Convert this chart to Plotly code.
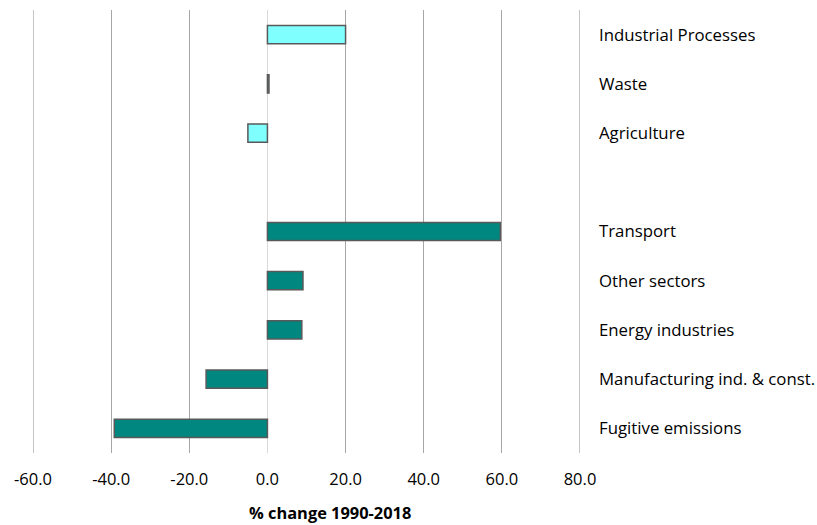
import plotly.graph_objects as go

# Data (bottom to top)
energy_categories = ["Fugitive emissions", "Manufacturing ind. & const.", "Energy industries",
                     "Other sectors", "Transport"]
energy_values = [-39.2, -15.7, 8.8, 9.1, 59.6]

nonenergy_categories = ["Agriculture", "Waste", "Industrial Processes"]
nonenergy_values = [-5.0, 0.4, 20.0]

gap_category = " "
category_order = energy_categories + [gap_category] + nonenergy_categories

x_ticks = [-60, -40, -20, 0, 20, 40, 60, 80]
x_title = "% change 1990-2018"

FONT = "Open Sans"
GRID = "#A6A6A6"
EDGE = "#595959"

fig = go.Figure()
fig.add_trace(go.Bar(
    y=energy_categories, x=energy_values, orientation="h", width=0.37,
    marker=dict(color="#00877F", line=dict(color=EDGE, width=1.5)),
    showlegend=False,
))
fig.add_trace(go.Bar(
    y=nonenergy_categories, x=nonenergy_values, orientation="h", width=0.37,
    marker=dict(color="#80FFFF", line=dict(color=EDGE, width=1.5)),
    showlegend=False,
))

# gridlines at the range edges (plotly omits them)
for xv in (x_ticks[0], x_ticks[-1]):
    fig.add_vline(x=xv, line=dict(color=GRID, width=1.3), layer="below")

fig.add_annotation(
    text="<b>" + x_title + "</b>", xref="paper", yref="paper",
    x=0.543, y=0, yshift=-59, xanchor="center", yanchor="middle",
    showarrow=False, font=dict(size=16.4),
)

fig.update_layout(
    width=817, height=525,
    margin=dict(l=33, r=237, t=10, b=72),
    plot_bgcolor="white", paper_bgcolor="white",
    font=dict(family=FONT, size=16, color="#000000"),
    barmode="overlay",
    xaxis=dict(
        range=[x_ticks[0], x_ticks[-1]], tickvals=x_ticks,
        ticktext=[f"{v:.1f}" for v in x_ticks],
        showgrid=True, gridcolor=GRID, gridwidth=1.3,
        zeroline=True, zerolinecolor="#D9D9D9", zerolinewidth=1.3,
        showline=False, ticks="", tickfont=dict(size=16.5),
        ticklabelstandoff=14, automargin=False,
    ),
    yaxis=dict(
        categoryorder="array", categoryarray=category_order,
        type="category", range=[-0.5, len(category_order) - 0.5],
        side="right", showgrid=False, zeroline=False, showline=False,
        ticks="", ticklabelstandoff=18, tickfont=dict(size=16.8),
        automargin=False,
    ),
)

fig.write_html("out.html")
